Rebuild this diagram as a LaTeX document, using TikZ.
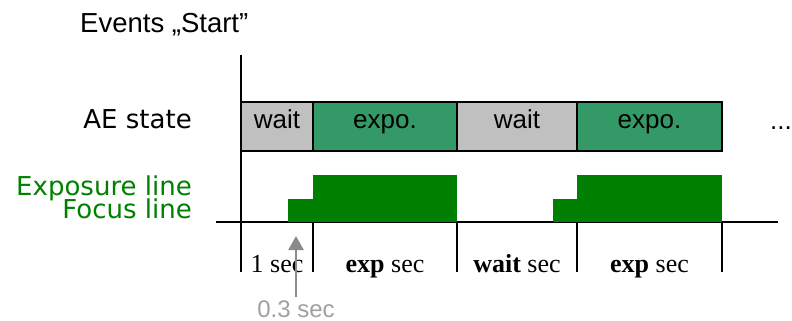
\documentclass[tikz,border=0pt]{standalone}
\usepackage{fontspec}
\setmainfont{Liberation Serif}
\setsansfont{Liberation Sans}
\newfontfamily\verd{DejaVu Sans}
\usepackage{xcolor}
\usetikzlibrary{arrows.meta}
\usetikzlibrary{positioning}
\definecolor{waitgray}{HTML}{C0C0C0}
\definecolor{expogreen}{HTML}{339966}
\definecolor{linegreen}{HTML}{008000}
\definecolor{notegray}{HTML}{A0A0A0}
\definecolor{arrgray}{HTML}{8A8A8A}
\newcommand\bigtxt{\fontsize{26}{31}\selectfont}
\tikzstyle{aebox}=[draw,line width=1.5pt,minimum height=49pt,inner sep=0pt,outer sep=0pt,text height=14pt,text depth=10pt,font=\sffamily\bigtxt]
\tikzstyle{waitst}=[aebox,fill=waitgray]
\tikzstyle{expost}=[aebox,fill=expogreen]
\tikzstyle{sig}=[fill=linegreen]
\tikzstyle{tick}=[line width=1.5pt]
\tikzstyle{secl}=[anchor=base,inner sep=0pt,font=\rmfamily\bigtxt]
\tikzstyle{side}=[anchor=base east,inner sep=0pt,font=\verd\bigtxt]
\tikzstyle{arr}=[line width=2.5pt,arrgray,-{Triangle[length=14pt,width=15pt]}]

\begin{document}
\begin{tikzpicture}[x=1pt,y=-1pt]
	\useasboundingbox (0,0) rectangle (792,321);
	% left labels
	\node[anchor=base west,inner sep=0pt,font=\sffamily\fontsize{27.5}{32}\selectfont] (ev) at (80,33) {Events „Start”};
	\node[side] (ae) at (192,128) {AE state};
	\node[side,text=linegreen] (expl) at (192,195) {Exposure line};
	\node[side,text=linegreen] (focl) at (192,218) {Focus line};
	% AE state
	\node[waitst,minimum width=72pt,anchor=north west] (w1) at (241,102) {wait};
	\node[expost,minimum width=144pt,right=0pt of w1] (e1) {expo.};
	\node[waitst,minimum width=120pt,right=0pt of e1] (w2) {wait};
	\node[expost,minimum width=145pt,right=0pt of w2] (e2) {expo.};
	\node[anchor=base west,inner sep=0pt,font=\sffamily\bigtxt] (dots) at (770,129) {...};
	% time line
	\coordinate (bl) at (216,222);
	\coordinate (br) at (778,222);
	\coordinate (lb) at (0,272);
	\draw[line width=1.2pt] (bl) -- (br);
	\draw[tick] (241,55) -- (w1.west |- lb);
	\foreach \b in {e1,w2,e2} \draw[tick] (\b.west |- bl) -- (\b.west |- lb);
	\draw[tick] (e2.east |- bl) -- (e2.east |- lb);
	% signals
	\fill[sig] (288,199) rectangle (e1.west |- bl);
	\fill[sig] (e1.west |- 0,175) rectangle (e1.east |- bl);
	\fill[sig] (553,199) rectangle (e2.west |- bl);
	\fill[sig] (e2.west |- 0,175) rectangle (e2.east |- bl);
	% durations
	\node[secl] (s1) at (w1 |- lb) {1 sec};
	\node[secl] (s2) at (e1 |- lb) {\textbf{exp} sec};
	\node[secl] (s3) at (w2 |- lb) {\textbf{wait} sec};
	\node[secl] (s4) at (e2 |- lb) {\textbf{exp} sec};
	\node[anchor=base,text=notegray,font=\sffamily\fontsize{24}{28}\selectfont] (note) at (296,317) {0.3 sec};
	\coordinate (tip) at (296,236);
	\draw[arr] (note) -- (tip);
\end{tikzpicture}
\end{document}
